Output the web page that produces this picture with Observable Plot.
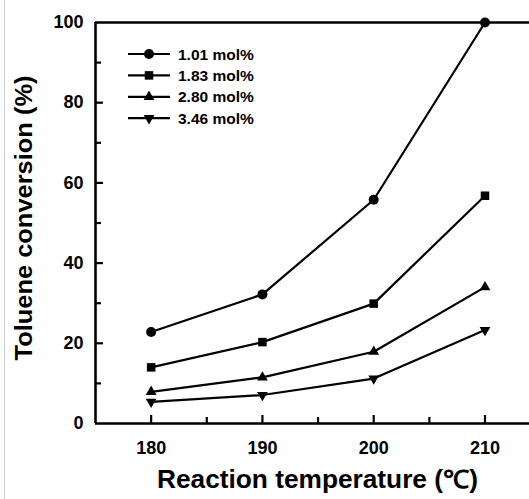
<!DOCTYPE html>
<html><head><meta charset="utf-8">
<script src="https://cdn.jsdelivr.net/npm/d3@7"></script>
<script src="https://cdn.jsdelivr.net/npm/@observablehq/plot@0.6"></script>
<style>
body{margin:0;background:#fff;}
#wrap{position:relative;width:529px;height:499px;overflow:hidden;}
#wrap svg{position:absolute;left:0;top:0;}
#edge{position:absolute;left:4px;top:0;width:1px;height:499px;background:#cfcfcf;z-index:2;}
</style></head><body><div id="wrap"><div id="edge"></div></div>
<script>
const temperatures = [180, 190, 200, 210];
const seriesNames = ["1.01 mol%", "1.83 mol%", "2.80 mol%", "3.46 mol%"];
const conv101 = [22.8, 32.2, 55.8, 100];
const conv183 = [14.0, 20.3, 29.9, 56.8];
const conv280 = [7.9, 11.5, 17.9, 34.0];
const conv346 = [5.4, 7.1, 11.2, 23.3];
const xTickLabels = [180, 190, 200, 210];
const xMinorTicks = [185, 195, 205];
const yTickLabels = [0, 20, 40, 60, 80, 100];
const yMinorTicks = [10, 30, 50, 70, 90];
const xTitle = "Reaction temperature (\u2103)";
const yTitle = "Toluene conversion (%)";

const triangleDown = {
  draw(context, size) {
    const y = Math.sqrt(size / (Math.sqrt(3) * 3));
    context.moveTo(0, y * 2);
    context.lineTo(-Math.sqrt(3) * y, -y);
    context.lineTo(Math.sqrt(3) * y, -y);
    context.closePath();
  }
};
const symbolObjs = [d3.symbolCircle, d3.symbolSquare, d3.symbolTriangle, triangleDown];
const radii = [5, 4.8, 4, 4];
const series = [conv101, conv183, conv280, conv346];
const rows = (vals) => temperatures.map((t, i) => ({t, v: vals[i]}));

const xMin = 175, xMax = 214;
const marks = [
  Plot.ruleY([0, 100], {strokeWidth: 2.6}),
  Plot.ruleX([xMin], {strokeWidth: 2.6}),
  Plot.ruleX(xTickLabels, {y1: 0, y2: 0, insetTop: -8, strokeWidth: 2.2}),
  Plot.ruleX(xMinorTicks, {y1: 0, y2: 0, insetTop: -6, strokeWidth: 2.2}),
  Plot.ruleY(yTickLabels.filter(d => d > 0 && d < 100), {x1: xMin, x2: xMin, insetRight: -8, strokeWidth: 2.2}),
  Plot.ruleY(yMinorTicks, {x1: xMin, x2: xMin, insetRight: -6, strokeWidth: 2.2}),
  Plot.axisX(xTickLabels, {tickSize: 0, tickPadding: 17.5, label: null}),
  Plot.axisY(yTickLabels, {tickSize: 0, tickPadding: 12, label: null}),
  Plot.text([xTitle], {text: d => d, frameAnchor: "bottom", dy: 64, dx: 5, fontSize: 25, fontWeight: "bold"}),
  Plot.text([yTitle], {text: d => d, frameAnchor: "left", textAnchor: "middle", rotate: -90, dx: -71, dy: -5, fontSize: 23, fontWeight: "bold"})
];
series.forEach((s, i) => {
  marks.push(Plot.line(rows(s), {x: "t", y: "v", stroke: "black", strokeWidth: 2.2}));
  marks.push(Plot.dot(rows(s), {x: "t", y: "v", symbol: symbolObjs[i], r: radii[i], fill: "black", stroke: "none"}));
});

const chart = Plot.plot({
  width: 529,
  height: 499,
  marginLeft: 95,
  marginRight: 0,
  marginTop: 22,
  marginBottom: 76,
  x: {domain: [xMin, xMax]},
  y: {domain: [0, 100]},
  style: {fontFamily: "'Liberation Sans', Arial, sans-serif", fontSize: "18px", fontWeight: "bold", color: "black", background: "white"},
  marks
});
document.getElementById("wrap").appendChild(chart);

const svg = d3.select(chart);
// Stretch the axis titles to the reference's wider lettering
svg.selectAll("text").each(function() {
  const t = this.textContent;
  if (t === xTitle) d3.select(this).attr("textLength", 321).attr("lengthAdjust", "spacingAndGlyphs");
  if (t === yTitle) d3.select(this).attr("textLength", 285).attr("lengthAdjust", "spacingAndGlyphs");
});

// Legend inside the plot area
const lg = svg.append("g").attr("class", "legend").attr("text-anchor", "start");
seriesNames.forEach((name, i) => {
  const cy = 54 + i * 21.4;
  const g = lg.append("g").attr("transform", `translate(0,${cy})`);
  g.append("line").attr("x1", 128).attr("x2", 170).attr("y1", 0).attr("y2", 0)
    .attr("stroke", "black").attr("stroke-width", 2.2);
  g.append("path").attr("transform", "translate(149,0)")
    .attr("d", d3.symbol(symbolObjs[i], Math.PI * radii[i] * radii[i])())
    .attr("fill", "black");
  g.append("text").attr("x", 178).attr("y", 0).attr("dy", "0.36em")
    .attr("text-anchor", "start")
    .attr("font-size", 15.5).attr("font-weight", "bold").attr("fill", "black").text(name);
});
</script>
</body></html>
